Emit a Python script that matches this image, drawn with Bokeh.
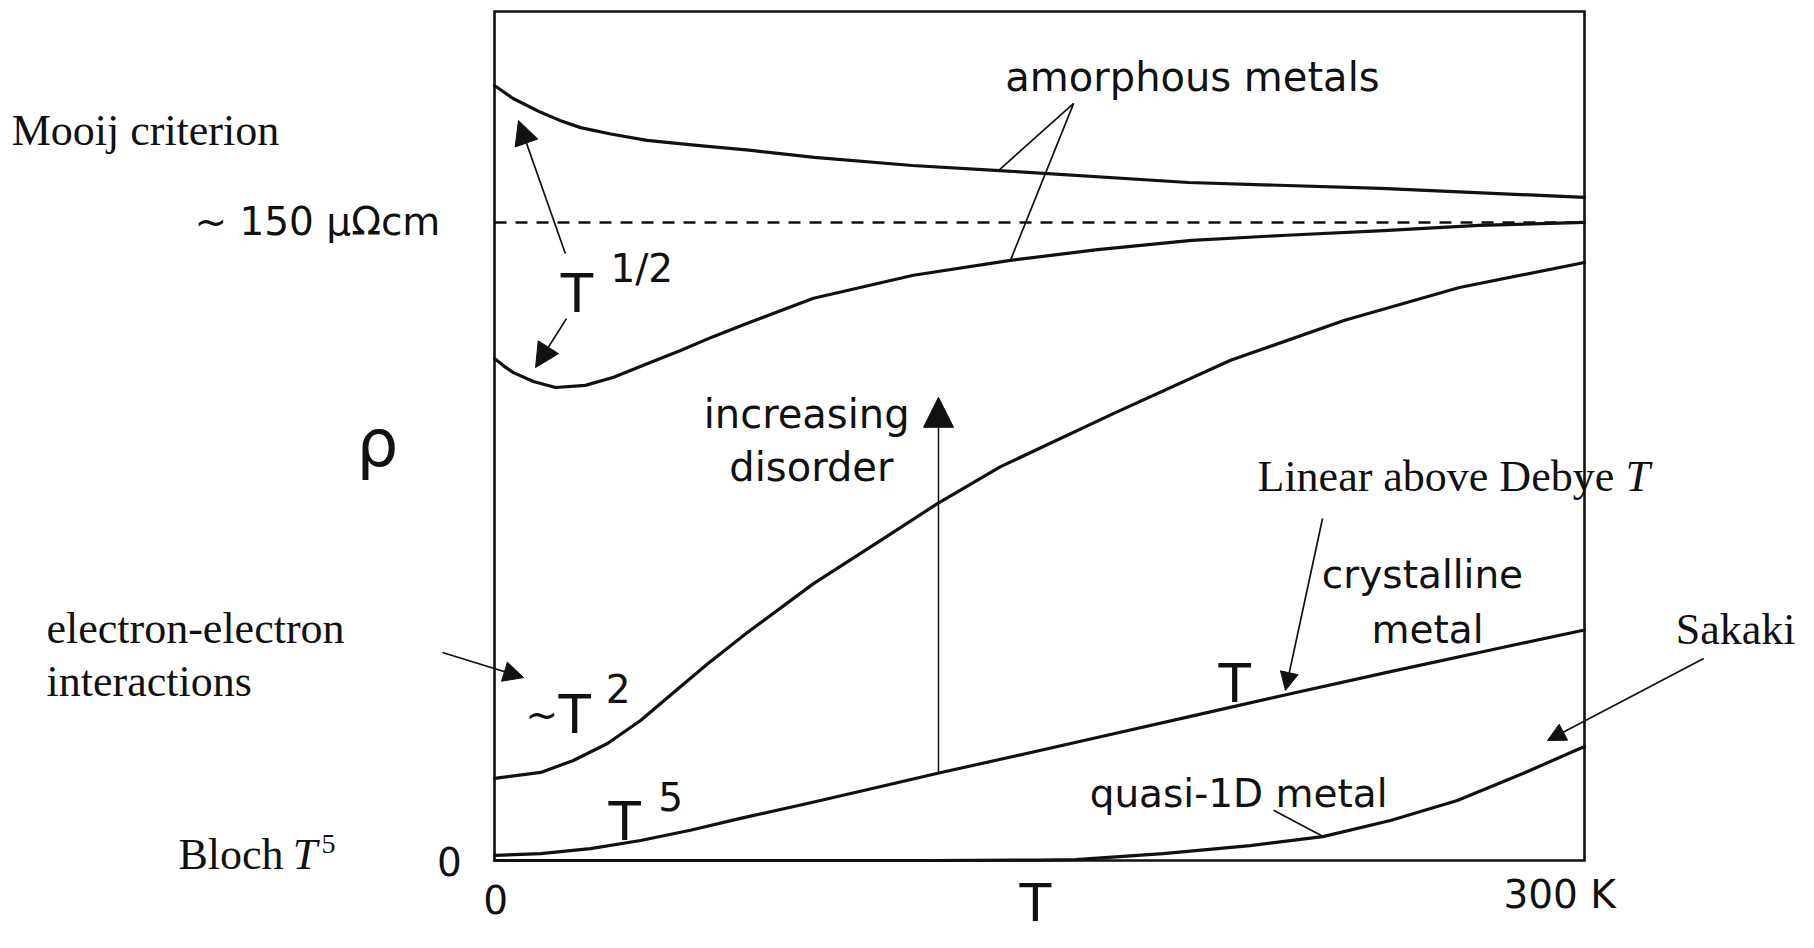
from bokeh.plotting import figure
from bokeh.models import Range1d, Label, Arrow, NormalHead
from bokeh.embed import file_html
from bokeh.resources import INLINE

# ---------------- data (T in K, rho in micro-ohm cm) ----------------
T_MAX = 300
RHO_TOP = 199.6
MOOIJ = 150

amorph_hi_T = [0, 5, 12.7, 18, 23.7, 32, 42, 55, 70, 88, 115, 139, 191, 244, 300]
amorph_hi_rho = [182.2, 179.2, 175.9, 174.0, 172.3, 170.8, 169.3, 168.2, 167.0, 165.3, 163.4, 162.2, 159.4, 158.0, 155.9]

amorph_lo_T = [0, 2.5, 5.2, 10.7, 16.8, 25, 32.8, 42, 51.2, 60, 69.6, 87.8, 115.3, 142, 166, 191.9, 218, 244.7, 270.9, 300]
amorph_lo_rho = [118.0, 116.3, 114.7, 112.6, 111.2, 111.7, 113.6, 116.8, 119.9, 123.1, 126.3, 132.2, 137.6, 141.1, 143.6, 145.8, 147.0, 148.1, 149.3, 150.0]

ee_T = [0, 12.7, 21.7, 31.1, 40.2, 49.3, 58.6, 69.6, 87.8, 106.2, 121.9, 139.3, 170.9, 202.6, 234, 265.6, 300]
ee_rho = [19.3, 20.7, 23.5, 27.5, 32.9, 39.5, 46.2, 53.6, 65.1, 75.2, 83.9, 92.6, 105.3, 117.6, 127.0, 134.7, 140.6]

cryst_T = [0, 12.7, 26.4, 40.2, 53.9, 67.7, 86.1, 104.3, 122, 139.3, 166.8, 194.3, 219.1, 246.6, 274.2, 300]
cryst_rho = [1.2, 1.6, 2.8, 4.7, 7.1, 9.9, 13.4, 17.0, 20.5, 23.8, 29.1, 34.4, 39.2, 44.4, 49.5, 54.2]

q1d_T = [0, 120, 150, 160, 184, 208, 228, 246.6, 265, 283.2, 300]
q1d_rho = [0, 0, 0.1, 0.2, 1.6, 3.5, 5.6, 9.4, 14.1, 20.5, 26.8]

mooij_T = [0, T_MAX]
mooij_rho = [MOOIJ, MOOIJ]

# leader lines (annotation anchors)
amorph_lead_T = [138.7, 159.4, 142.0]
amorph_lead_rho = [162.2, 178.0, 141.1]
q1d_lead_T = [214.4, 228.2]
q1d_lead_rho = [11.8, 5.6]

# ---------------- layout ----------------
W, H = 1798, 932
BOX_L, BOX_R, BOX_T, BOX_B = 494, 1584, 11, 860      # box edges, px
sx = (BOX_R - BOX_L) / T_MAX
sy = (BOX_B - BOX_T) / RHO_TOP
x_lo, x_hi = -BOX_L / sx, (W - BOX_L) / sx
y_hi, y_lo = BOX_B / sy, (BOX_B - H) / sy
TEXT_LIFT = 14 / sy      # baseline correction for rendered labels

SANS = "DejaVu Sans"
SERIF = "Liberation Serif"
INK = "#111111"

p = figure(width=W, height=H,
           x_range=Range1d(x_lo, x_hi), y_range=Range1d(y_lo, y_hi),
           output_backend="svg", toolbar_location=None,
           x_axis_location=None, y_axis_location=None,
           min_border=0)
p.grid.visible = False
p.outline_line_color = None
p.background_fill_color = "white"
p.border_fill_color = "white"

# box
p.line([0, 0, T_MAX, T_MAX, 0], [0, RHO_TOP, RHO_TOP, 0, 0],
       line_color=INK, line_width=2.6, line_join="miter")

# curves
for xs, ys in [(amorph_hi_T, amorph_hi_rho), (amorph_lo_T, amorph_lo_rho),
               (ee_T, ee_rho), (cryst_T, cryst_rho), (q1d_T, q1d_rho)]:
    p.line(xs, ys, line_color=INK, line_width=3.2, line_join="round", line_cap="round")

p.line(mooij_T, mooij_rho, line_color=INK, line_width=2.4, line_dash="12 9")

p.line(amorph_lead_T, amorph_lead_rho, line_color=INK, line_width=1.7)
p.line(q1d_lead_T, q1d_lead_rho, line_color=INK, line_width=1.7)


def lab(x, y, text, size, font=SANS, align="left", style="normal"):
    p.add_layout(Label(x=x, y=y + TEXT_LIFT, text=text, text_font=font,
                       text_font_size=f"{size}px", text_align=align,
                       text_baseline="alphabetic", text_color=INK,
                       text_font_style=style))


def arrow(x0, y0, x1, y1, size, lw=1.7):
    p.add_layout(Arrow(x_start=x0, y_start=y0, x_end=x1, y_end=y1,
                       line_color=INK, line_width=lw,
                       end=NormalHead(size=size, fill_color=INK, line_color=INK, line_width=1)))


# figure texts (sans)
lab(140.6, 181.0, "amorphous metals", 40)
lab(-14.9, 146.9, "~ 150 \u03bc\u03a9cm", 39, align="right")
lab(-32.2, 94.7, "\u03c1", 66, align="center")
lab(18.2, 130.0, "T", 53)
lab(31.9, 135.9, "1/2", 39)
lab(85.9, 101.6, "increasing", 40, align="center")
lab(87.2, 89.3, "disorder", 40, align="center")
lab(8.5, 31.0, "~", 39)
lab(17.6, 31.0, "T", 53)
lab(30.6, 37.1, "2", 39)
lab(31.4, 5.9, "T", 53)
lab(45.1, 11.8, "5", 39)
lab(199.3, 38.3, "T", 53)
lab(255.4, 64.0, "crystalline", 39, align="center")
lab(256.8, 51.0, "metal", 39, align="center")
lab(163.8, 12.5, "quasi-1D metal", 39)
lab(-12.4, -3.5, "0", 39, align="center")
lab(0.3, -12.5, "0", 39, align="center")
lab(277.7, -11.3, "300 K", 39)
lab(144.5, -13.4, "T", 52)

# added annotations (serif)
lab(-132.9, 168.3, "Mooij criterion", 44, font=SERIF)
lab(-123.3, 51.3, "electron-electron", 44, font=SERIF)
lab(-123.3, 38.8, "interactions", 44, font=SERIF)
lab(-87.0, -1.9, "Bloch", 44, font=SERIF)
lab(-55.5, -1.9, "T", 44, font=SERIF, style="italic")
lab(-47.6, 0.5, "5", 28, font=SERIF)
lab(210.0, 87.0, "Linear above Debye", 44, font=SERIF)
lab(311.3, 87.0, "T", 44, font=SERIF, style="italic")
lab(325.1, 51.0, "Sakaki", 44, font=SERIF)

# arrows
arrow(19.5, 142.7, 6.6, 174.0, 24)
arrow(19.8, 127.4, 11.3, 115.9, 24)
arrow(122.2, 20.5, 122.2, 108.9, 30, lw=1.5)
arrow(-14.3, 48.9, 8.0, 43.0, 20)
arrow(227.9, 80.4, 217.7, 40.0, 18)
arrow(332.8, 47.5, 289.8, 28.2, 18)

open("out.html", "w").write(file_html(p, INLINE))
